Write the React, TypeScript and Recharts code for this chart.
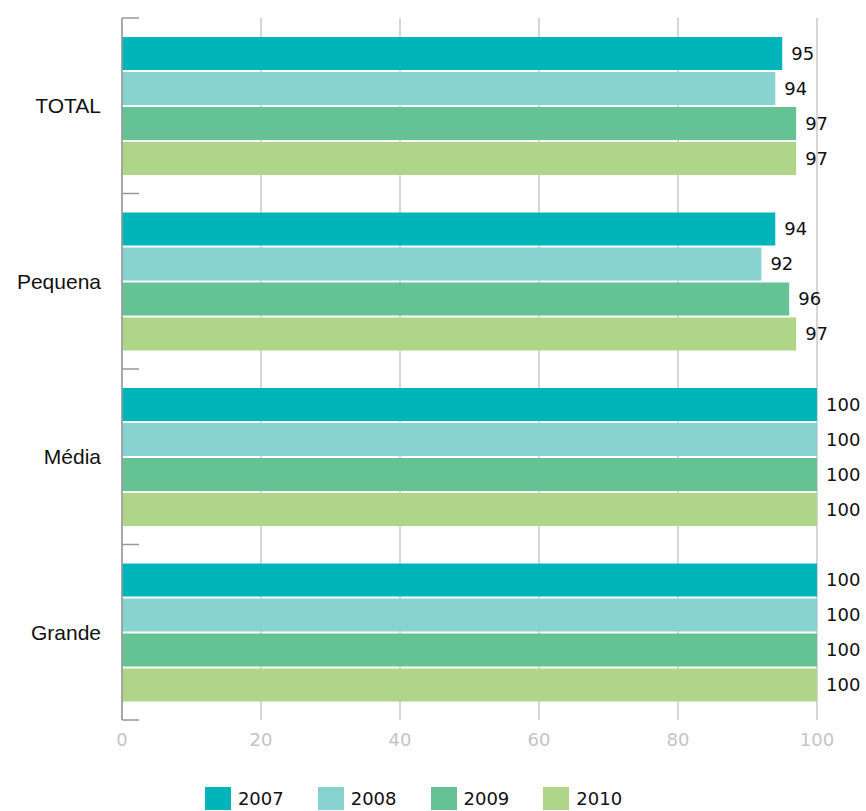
import React from 'react';
import { BarChart, Bar, XAxis, YAxis, CartesianGrid, Legend, LabelList } from 'recharts';

const categories = ['TOTAL', 'Pequena', 'Média', 'Grande'];
const years = ['2007', '2008', '2009', '2010'];
const values2007 = [95, 94, 100, 100];
const values2008 = [94, 92, 100, 100];
const values2009 = [97, 96, 100, 100];
const values2010 = [97, 97, 100, 100];
const xTicks = [0, 20, 40, 60, 80, 100];

const colors = ['#00B5BA', '#88D2D0', '#65C295', '#AED588'];
const series = [values2007, values2008, values2009, values2010];

const data = categories.map((name, i) => ({
  name,
  y2007: values2007[i],
  y2008: values2008[i],
  y2009: values2009[i],
  y2010: values2010[i],
}));

const FONT = '"Liberation Sans", Arial, sans-serif';
const NUM_FONT = '"DejaVu Sans", sans-serif';

const W = 866;
const H = 811;
const MARGIN = { top: 18, right: 49, left: 10, bottom: 0 };
const Y_AXIS_W = 112;
const X_AXIS_H = 38;
const LEGEND_H = 53;
const PLOT_LEFT = MARGIN.left + Y_AXIS_W;
const PLOT_H = H - MARGIN.top - X_AXIS_H - LEGEND_H;
const BAND = PLOT_H / categories.length;

// category label plus the little boundary ticks on the axis
const CategoryTick = (props: any) => {
  const { x, y, payload, index } = props;
  const top = y - BAND / 2;
  const last = index === categories.length - 1;
  return (
    <g>
      <line x1={PLOT_LEFT} x2={PLOT_LEFT + 17} y1={top} y2={top} stroke="#999" strokeWidth={1.5} />
      {last && (
        <line x1={PLOT_LEFT} x2={PLOT_LEFT + 17} y1={top + BAND} y2={top + BAND} stroke="#999" strokeWidth={1.5} />
      )}
      <text x={x} y={y} dy="0.35em" textAnchor="end" fill="#111" fontSize={21} fontFamily={FONT}>
        {payload.value}
      </text>
    </g>
  );
};

const LegendRow = () => (
  <div
    style={{
      height: LEGEND_H,
      display: 'flex',
      justifyContent: 'center',
      alignItems: 'flex-end',
      gap: 34,
      fontFamily: NUM_FONT,
    }}
  >
    {years.map((y, i) => (
      <div key={y} style={{ display: 'flex', alignItems: 'center', height: 23, marginBottom: 1 }}>
        <span style={{ display: 'inline-block', width: 26, height: 23, background: colors[i], marginRight: 7 }} />
        <span style={{ fontSize: 18, color: '#111' }}>{y}</span>
      </div>
    ))}
  </div>
);

export default function App() {
  return (
    <div style={{ position: 'absolute', left: 0, top: 0, width: W, height: H, background: '#fff' }}>
      <BarChart
        width={W}
        height={H}
        data={data}
        layout="vertical"
        margin={MARGIN}
        barCategoryGap={19}
        barGap={2}
      >
        <CartesianGrid horizontal={false} stroke="#c8c8c8" strokeWidth={1.5} />
        <XAxis
          type="number"
          domain={[0, 100]}
          ticks={xTicks}
          axisLine={false}
          tickLine={false}
          tickSize={0}
          tickMargin={13}
          height={X_AXIS_H}
          tick={{ fill: '#c4c4c4', fontSize: 18, fontFamily: NUM_FONT }}
        />
        <YAxis
          dataKey="name"
          type="category"
          width={Y_AXIS_W}
          axisLine={{ stroke: '#999', strokeWidth: 1.5 }}
          tickLine={false}
          tickSize={0}
          tickMargin={21}
          tick={<CategoryTick />}
        />
        <Legend
          verticalAlign="bottom"
          height={LEGEND_H}
          content={() => <LegendRow />}
          wrapperStyle={{ height: LEGEND_H, padding: 0 }}
        />
        {series.map((_, i) => (
          <Bar
            key={years[i]}
            dataKey={`y${years[i]}`}
            name={years[i]}
            fill={colors[i]}
            isAnimationActive={false}
          >
            <LabelList
              dataKey={`y${years[i]}`}
              position="right"
              offset={9}
              style={{ fill: '#111', fontSize: 18, fontFamily: NUM_FONT }}
            />
          </Bar>
        ))}
      </BarChart>
    </div>
  );
}
